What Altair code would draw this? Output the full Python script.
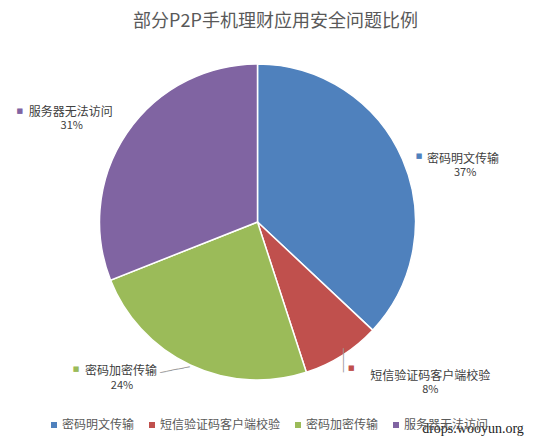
import math
import altair as alt
import pandas as pd

categories = ["密码明文传输", "短信验证码客户端校验", "密码加密传输", "服务器无法访问"]
values = [37, 8, 24, 31]
pct_labels = ["37%", "8%", "24%", "31%"]
colors = ["#4F81BD", "#C0504D", "#9BBB59", "#8064A2"]

df = pd.DataFrame({
    "cat": categories,
    "value": values,
    "pct": pct_labels,
    "idx": list(range(len(categories))),
})

FONT = "Noto Sans CJK SC"
R_PIE = 158
R_LBL = 175

base = alt.Chart(df)

color = alt.Color(
    "cat:N",
    scale=alt.Scale(domain=categories, range=colors),
    sort=categories,
    legend=alt.Legend(
        title=None,
        orient="none",
        direction="horizontal",
        legendX=40,
        legendY=381,
        symbolType="square",
        symbolSize=36,
        symbolStrokeWidth=0,
        labelFont=FONT,
        labelFontSize=12,
        labelColor="#595959",
        labelOffset=2,
        columnPadding=11,
        padding=0,
    ),
)

pie = base.mark_arc(outerRadius=R_PIE, stroke="white", strokeWidth=1.5).encode(
    theta=alt.Theta("value:Q", stack=True),
    color=color,
    order=alt.Order("idx:Q"),
)

def positioned(chart):
    return chart.transform_window(
        cum="sum(value)", sort=[alt.SortField("idx")], frame=[None, 0]
    ).transform_joinaggregate(
        total="sum(value)"
    ).transform_calculate(
        mid="(datum.cum - datum.value / 2) / datum.total"
    )

theta_mid = alt.Theta("mid:Q", scale=alt.Scale(domain=[0, 1], range=[0, 2 * math.pi]))

# per-label offsets (marker, name, percent) relative to anchor at R_LBL on mid-angle
offsets = {
    "密码明文传输": [(1, 4), (9, 6.5), (47, 21)],
    "短信验证码客户端校验": [(0, -2), (19, 6), (79, 20)],
    "密码加密传输": [(-107, -11), (-98, -9), (-61, 6)],
    "服务器无法访问": [(-93, -13), (-84, -12), (-41, 2)],
}
# leader lines: (text, angle, dx, dy)
leaders = {
    "短信验证码客户端校验": ("────", 90, -9.5, 8.5),
    "密码加密传输": ("─────", 349, -5.9, -11.6),
}

text_layers = []
for i, cat in enumerate(categories):
    (mdx, mdy), (ndx, ndy), (pdx, pdy) = offsets[cat]
    src = positioned(base).transform_filter(alt.datum.cat == cat)
    marker = src.mark_text(
        text="■", font="DejaVu Sans", fontSize=7, dx=mdx, dy=mdy,
        align="center", baseline="middle", color=colors[i],
    ).encode(theta=theta_mid, radius=alt.value(R_LBL))
    name = src.mark_text(
        font=FONT, fontSize=12, dx=ndx, dy=ndy, align="left",
        baseline="middle", color="#404040",
    ).encode(theta=theta_mid, radius=alt.value(R_LBL), text="cat:N")
    pct = src.mark_text(
        font=FONT, fontSize=11, dx=pdx, dy=pdy, align="center",
        baseline="middle", color="#404040",
    ).encode(theta=theta_mid, radius=alt.value(R_LBL), text="pct:N")
    text_layers += [marker, name, pct]
    if cat in leaders:
        s, ang, ldx, ldy = leaders[cat]
        lead = src.mark_text(
            text=s, font="DejaVu Sans Mono", fontSize=10, angle=ang,
            dx=ldx, dy=ldy, align="center", baseline="middle", color="#9a9a9a",
        ).encode(theta=theta_mid, radius=alt.value(R_LBL))
        text_layers.append(lead)

watermark = alt.Chart(pd.DataFrame({"t": ["drops.wooyun.org"]})).mark_text(
    font="Liberation Serif", fontSize=14, color="#222222",
    align="center", baseline="middle",
).encode(x=alt.value(465), y=alt.value(391), text="t:N")

labels = alt.layer(*text_layers)

chart = alt.layer(pie, labels, watermark).resolve_scale(
    theta="independent"
).properties(
    width=499,
    height=368,
    background="white",
    autosize=alt.AutoSizeParams(type="none"),
    padding={"left": 0, "top": 30, "right": 19, "bottom": 31},
    title=alt.TitleParams(
        "部分P2P手机理财应用安全问题比例",
        font=FONT, fontSize=18, fontWeight="normal", color="#595959",
        anchor="middle", dx=18, offset=7,
    ),
).configure_view(strokeWidth=0, stroke="transparent")

chart.save("out.html", embed_options={"renderer": "svg", "actions": False})
